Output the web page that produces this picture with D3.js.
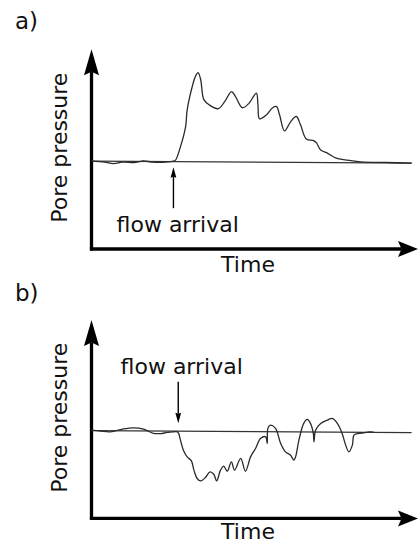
<!DOCTYPE html>
<html>
<head>
<meta charset="utf-8">
<script src="https://cdn.jsdelivr.net/npm/d3@7"></script>
<style>
  html, body { margin: 0; padding: 0; background: #fff; }
  svg { display: block; }
  text { font-family: "DejaVu Sans", Verdana, sans-serif; fill: #111; }
</style>
</head>
<body>
<svg id="chart" width="418" height="544"></svg>
<script>
// ---------- data (arbitrary units: time 0..102, pressure relative to baseline) ----------
const panelLabels = ["a)", "b)"];
const xLabel = "Time";
const yLabel = "Pore pressure";
const annotationText = "flow arrival";

const timeDomain = [0, 102];
const pressureDomain = [-99, 126];

// Panel a: positive pore-pressure pulse
const timeA = [0, 4.1, 6.9, 9.7, 13.75, 16.25, 19.1, 23.1, 25.6, 26.25, 27.8, 29.4, 29.9, 31.5, 32.5, 33.3,
  34.1, 35.1, 36.7, 39.6, 41.6, 43.75, 45, 47.1, 49.1, 51.5, 52, 52.5, 54.7, 56.6, 57.8, 58.75, 60.3, 62.2,
  64, 65.3, 67.1, 69.4, 70.3, 71.6, 73.7, 74.7, 76.25, 79.9, 84.1, 91.9, 100];
const pressureA = [0, -1.1, -2.8, -1.1, -1.5, 0.2, -1.1, -1.1, 0, 1.1, 16.3, 39, 58, 84.4, 95.8, 99.7,
  92, 69.3, 63.6, 59.1, 67, 78.4, 72.7, 60.2, 64.8, 76.5, 63.6, 47.7, 52.3, 60.2, 61.4, 52.3, 34.1, 44.3,
  50.3, 40.9, 25, 23.1, 20.5, 12.5, 9.1, 6.8, 3.75, 1.1, -0.8, -1.5, -2.3];
const baselineTimeA = [0, 100];
const baselinePressureA = [0, -2.3];
const arrivalTimeA = 25.6;
const arrowPressureA = [-53, -7];   // tail, tip

// Panel b: negative pore-pressure response
const timeB = [0, 2.8, 5.9, 9.7, 13.1, 16.25, 19.4, 21.6, 23.75, 26.8, 27.2, 27.8, 28.7, 29.9, 31.2, 32, 33,
  34.1, 35.6, 37, 38.2, 39.1, 40.3, 41.3, 42.4, 43.7, 44.7, 46.6, 48.1, 49.7, 51.25, 52.8, 54.4, 54.9, 55.1,
  55.9, 57.5, 59.1, 60.6, 62.2, 63.2, 63.75, 64.8, 66.3, 67.4, 68.4, 69.3, 69.5, 70, 71.6, 73.7, 75.2, 76.8,
  78.3, 79.4, 80.4, 81.5, 82, 83.5, 85.1, 86.7, 88.2];
const pressureB = [1.1, 0, -0.8, 2.3, 3.75, 2.3, -2.6, -2.8, -1.5, -0.8, -2.3, -10.2, -21.6, -29.2, -33.75, -44.3, -53.75,
  -56.5, -52.6, -46.25, -48.9, -56.5, -44.3, -39.8, -45.5, -34.9, -44.3, -31, -45.5, -29.2, -19.7, -8.3, -6.5, -14, 3.1,
  6.8, 3.1, -14, -23.5, -27.3, -33, -29.2, -10.2, 8.75, 13.3, 8.75, -2.6, -12.2, 1.1, 8.75, 12.5, 14.4, 8.75,
  -2.6, -15.9, -23.5, -15.9, -4.5, -2.6, -1.9, -0.8, -1.1];
const baselineTimeB = [0, 100];
const baselinePressureB = [0.5, -1.8];
const arrivalTimeB = 27.1;
const arrowPressureB = [56, 9];   // tail, tip

// ---------- drawing ----------
const svg = d3.select("#chart");

const panels = [
  { label: panelLabels[0], time: timeA, pressure: pressureA, bt: baselineTimeA, bp: baselinePressureA,
    arrival: arrivalTimeA, arrow: arrowPressureA,
    yRange: [249, 49.3], labelY: 29, textY: 231.5, textX: 177.7, timeY: 272.3 },
  { label: panelLabels[1], time: timeB, pressure: pressureB, bt: baselineTimeB, bp: baselinePressureB,
    arrival: arrivalTimeB, arrow: arrowPressureB,
    yRange: [518.4, 320], labelY: 300.5, textY: 374, textX: 181.7, timeY: 539 }
];

const x = d3.scaleLinear().domain(timeDomain).range([91.5, 418]);

const defs = svg.append("defs");
function addMarker(id, tip, back, half) {
  defs.append("marker")
    .attr("id", id)
    .attr("markerUnits", "userSpaceOnUse")
    .attr("viewBox", `${-back - 1} ${-half - 1} ${tip + back + 2} ${2 * half + 2}`)
    .attr("refX", 0).attr("refY", 0)
    .attr("markerWidth", tip + back + 2).attr("markerHeight", 2 * half + 2)
    .attr("orient", "auto")
    .append("path")
    .attr("d", `M${-back},${-half} L${tip},0 L${-back},${half} L0,0 Z`)
    .attr("fill", "#000");
}
addMarker("headUp", 22.5, 3.5, 7.5);
addMarker("headRight", 16.5, 3.5, 8);
addMarker("headSmall", 9.5, 0.8, 2.9);

panels.forEach(p => {
  const y = d3.scaleLinear().domain(pressureDomain).range(p.yRange);
  const g = svg.append("g");

  // axes
  g.append("line")
    .attr("x1", x(0)).attr("y1", y(pressureDomain[0]) + 1.6)
    .attr("x2", x(0)).attr("y2", y(pressureDomain[1]) + 22.5)
    .attr("stroke", "#000").attr("stroke-width", 3.3)
    .attr("marker-end", "url(#headUp)");
  g.append("line")
    .attr("x1", x(0) - 1.6).attr("y1", y(pressureDomain[0]))
    .attr("x2", x(timeDomain[1]) - 16.5).attr("y2", y(pressureDomain[0]))
    .attr("stroke", "#000").attr("stroke-width", 3.3)
    .attr("marker-end", "url(#headRight)");

  // baseline
  const line = d3.line().x(d => x(d[0])).y(d => y(d[1]));
  g.append("path")
    .datum(d3.zip(p.bt, p.bp))
    .attr("d", line)
    .attr("fill", "none").attr("stroke", "#333").attr("stroke-width", 1.3);

  // signal
  g.append("path")
    .datum(d3.zip(p.time, p.pressure))
    .attr("d", line.curve(d3.curveCatmullRom.alpha(0.5)))
    .attr("fill", "none").attr("stroke", "#2a2a2a").attr("stroke-width", 1.3)
    .attr("stroke-linejoin", "round");

  // flow arrival arrow
  const tipY = y(p.arrow[1]);
  const tailY = y(p.arrow[0]);
  const dir = tipY > tailY ? 1 : -1;
  g.append("line")
    .attr("x1", x(p.arrival)).attr("y1", tailY)
    .attr("x2", x(p.arrival)).attr("y2", tipY - dir * 9.5)
    .attr("stroke", "#000").attr("stroke-width", 1.4)
    .attr("marker-end", "url(#headSmall)");

  g.append("text")
    .attr("x", p.textX).attr("y", p.textY)
    .attr("text-anchor", "middle").attr("font-size", 22)
    .text(annotationText);

  // labels
  g.append("text")
    .attr("x", 248).attr("y", p.timeY)
    .attr("text-anchor", "middle").attr("font-size", 22)
    .text(xLabel);
  const yc = (y(pressureDomain[0]) + y(pressureDomain[1])) / 2 - 1.5;
  g.append("text")
    .attr("transform", `translate(67,${yc}) rotate(-90)`)
    .attr("text-anchor", "middle").attr("font-size", 22)
    .text(yLabel);
  g.append("text")
    .attr("x", 15).attr("y", p.labelY)
    .attr("font-size", 23)
    .text(p.label);
});
</script>
</body>
</html>
